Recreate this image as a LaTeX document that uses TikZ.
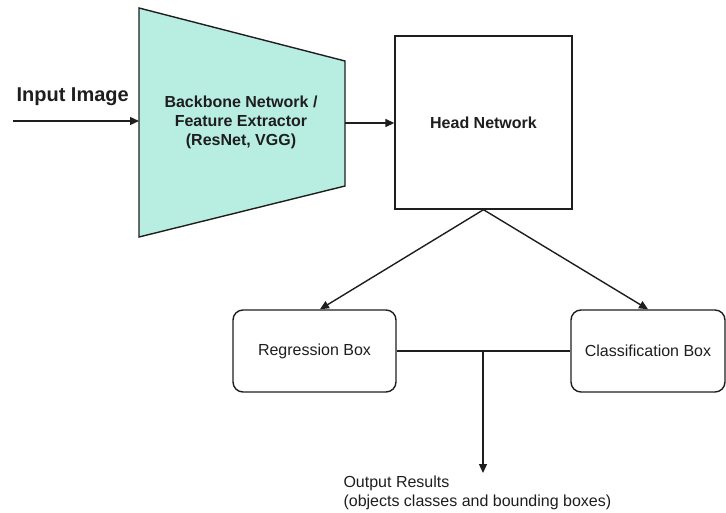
\documentclass[tikz,border=0pt]{standalone}
\usepackage{fontspec}
\setmainfont{Liberation Sans}
\usetikzlibrary{arrows.meta}
\definecolor{backfill}{RGB}{184,238,226}
\definecolor{ink}{RGB}{30,30,30}
\tikzset{
  line/.style={draw=ink, line width=1.4pt},
  arr/.style={line, -{Triangle[length=9pt,width=8pt]}},
  boxtext/.style={font=\fontsize{16}{19}\selectfont, text=ink, align=center},
  roundbox/.style={line, rounded corners=10pt, boxtext},
}
\begin{document}
\begin{tikzpicture}[x=1pt,y=-1pt]
  \useasboundingbox (0,0) rectangle (726,513);

  % backbone trapezoid
  \filldraw[line, fill=backfill] (139,8) -- (345,61) -- (345,186) -- (139,237) -- cycle;
  \coordinate (bbL) at (139,121);
  \coordinate (bbR) at (345,123);
  \node[boxtext, font=\fontsize{16}{19}\selectfont\bfseries] (bb) at (241,122)
    {Backbone Network /\\Feature Extractor\\(ResNet, VGG)};

  % input
  \node[font=\fontsize{20}{24}\selectfont\bfseries, text=ink, anchor=west] (inlabel) at (13,97) {Input Image};
  \coordinate (in) at (13,121);
  \draw[arr] (in) -- (bbL);

  % head network
  \node[line, boxtext, font=\fontsize{16}{19}\selectfont\bfseries,
        minimum width=177pt, minimum height=173pt] (head) at (483.5,122.5) {Head Network};
  \draw[arr] (bbR) -- (head.west |- bbR);

  % output boxes
  \node[roundbox, minimum width=163pt, minimum height=82pt] (reg) at (314.5,351) {Regression Box};
  \node[roundbox, minimum width=154pt, minimum height=82pt] (cls) at (648,351) {Classification Box};

  \draw[arr] (head.south) -- ([xshift=5.5pt]reg.north);
  \draw[arr] (head.south) -- (cls.north);

  % merge and output
  \draw[line] (reg.east) -- (cls.west);
  \coordinate (join) at (483,351);
  \coordinate (out) at (483,473);
  \draw[arr] (join) -- (out);
  \node[boxtext, align=left, anchor=north west] (outlabel) at (340,472)
    {Output Results\\(objects classes and bounding boxes)};
\end{tikzpicture}
\end{document}
